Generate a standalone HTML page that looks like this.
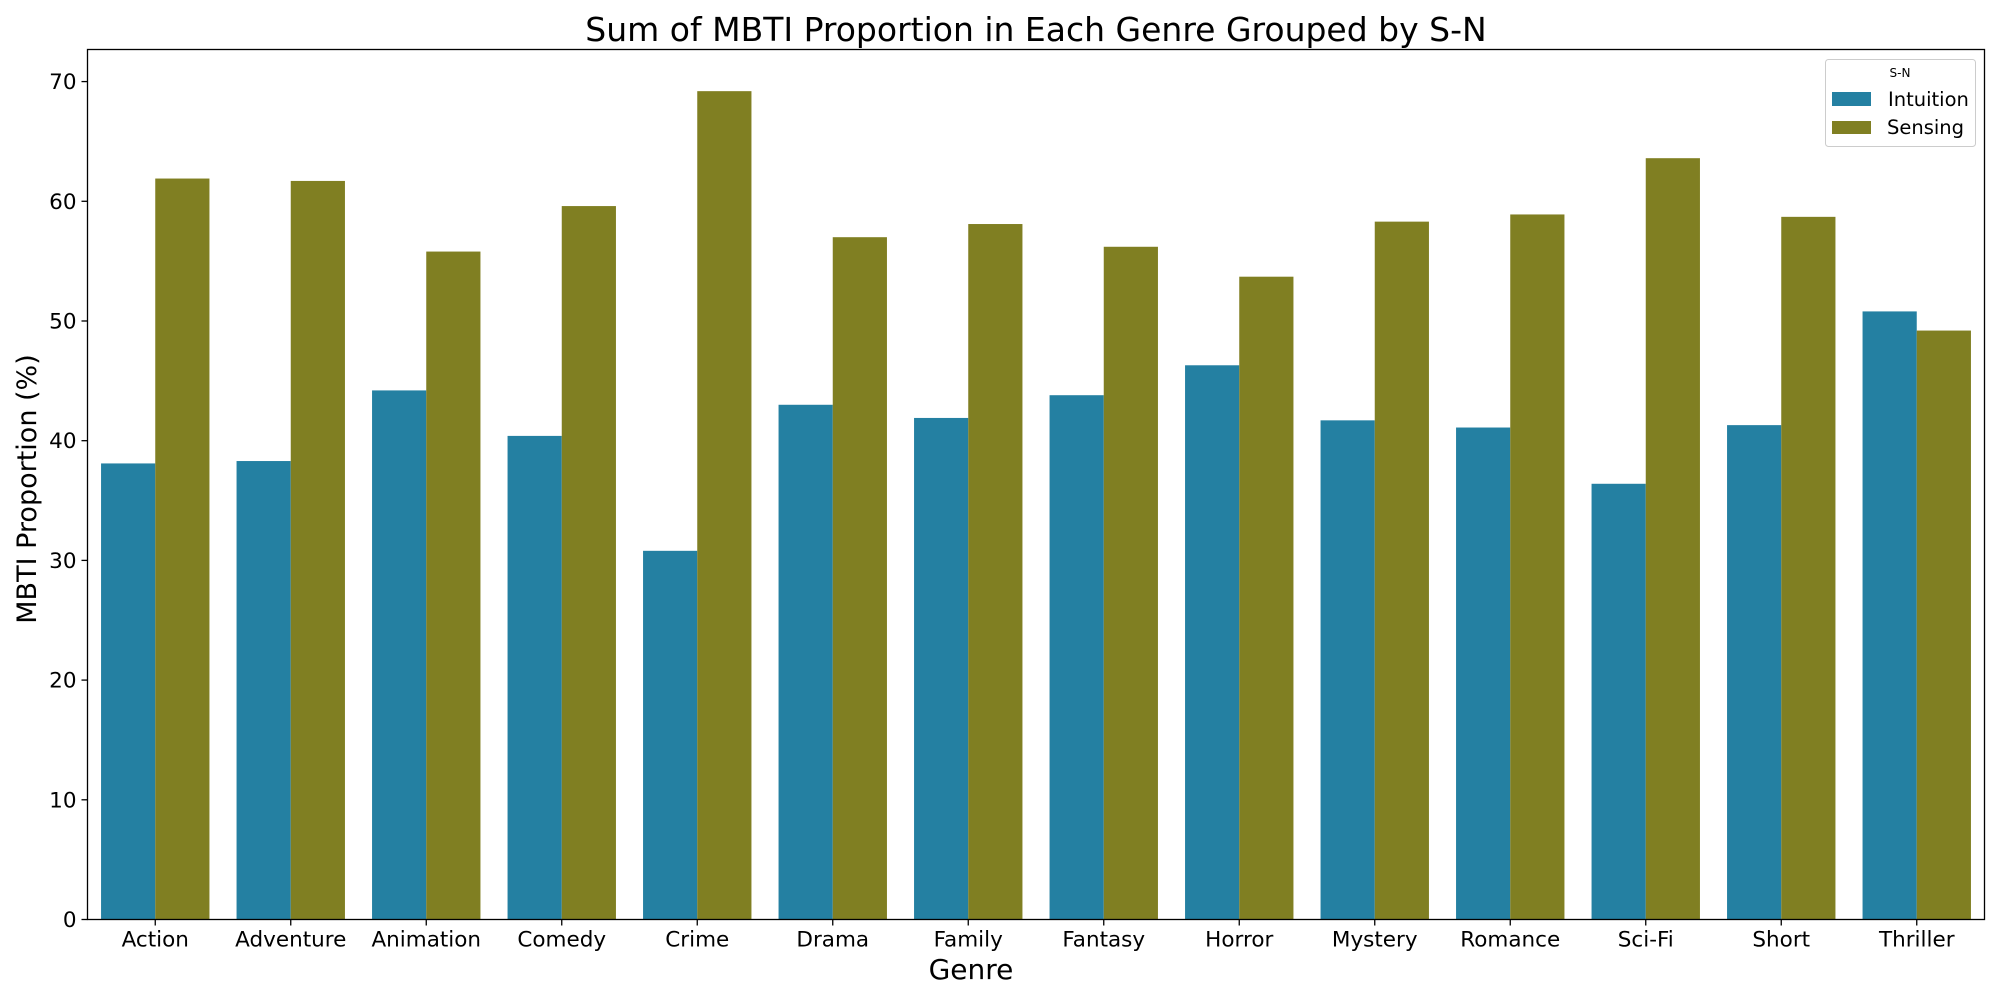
<!DOCTYPE html>
<html><head><meta charset="utf-8">
<style>
html,body{margin:0;padding:0;background:#fff;}
svg{display:block;font-family:"DejaVu Sans","Liberation Sans",sans-serif;}
</style></head>
<body>
<svg id="chart" width="2000" height="1000" viewBox="0 0 2000 1000">
<text x="1036" y="41" font-size="33" text-anchor="middle">Sum of MBTI Proportion in Each Genre Grouped by S-N</text>
<g id="bars"></g>
<g id="yaxis"></g>
<g id="xaxis"></g>
<rect x="87.5" y="49.5" width="1897" height="870" fill="none" stroke="#000" stroke-width="1.3"/>
<text x="971" y="979" font-size="28" text-anchor="middle">Genre</text>
<text transform="translate(36,489) rotate(-90)" font-size="27" text-anchor="middle">MBTI Proportion (%)</text>
<g>
<rect x="1825.5" y="59.5" width="150" height="87" rx="3" fill="#fff" stroke="#ccc" stroke-width="1"/>
<text x="1900" y="77" font-size="12" text-anchor="middle">S-N</text>
<rect x="1832" y="92" width="39" height="14" fill="#2480a2"/>
<text x="1888" y="106" font-size="19.5">Intuition</text>
<rect x="1832" y="121" width="39" height="13" fill="#807f22"/>
<text x="1887" y="134" font-size="19.5">Sensing</text>
</g>
</svg>
<script>
const categories=["Action","Adventure","Animation","Comedy","Crime","Drama","Family","Fantasy","Horror","Mystery","Romance","Sci-Fi","Short","Thriller"];
const intuition=[38.1,38.3,44.2,40.4,30.8,43.0,41.9,43.8,46.3,41.7,41.1,36.4,41.3,50.8];
const sensing=[61.9,61.7,55.8,59.6,69.2,57.0,58.1,56.2,53.7,58.3,58.9,63.6,58.7,49.2];
const yTicks=[0,10,20,30,40,50,60,70];

const NS="http://www.w3.org/2000/svg";
const L=87.5,R=1984.5,T=49.5,B=919.5,YMAX=72.68;
const bw=(R-L)/categories.length;
function xc(i){return L+bw*(i+0.5);}
function y(v){return B-(v/YMAX)*(B-T);}
function mk(tag,attrs,parent){const e=document.createElementNS(NS,tag);for(const k in attrs)e.setAttribute(k,attrs[k]);parent.appendChild(e);return e;}
const gb=document.getElementById('bars'),gy=document.getElementById('yaxis'),gx=document.getElementById('xaxis');
const half=bw*0.4;
categories.forEach((c,i)=>{
  const cx=xc(i);
  const r1=mk('rect',{x:cx-half,y:y(intuition[i]),width:half,height:B-y(intuition[i]),fill:'#2480a2'},gb);
  
  
  const r2=mk('rect',{x:cx,y:y(sensing[i]),width:half,height:B-y(sensing[i]),fill:'#807f22'},gb);
  
  
  const t=mk('line',{x1:cx,x2:cx,y1:B,y2:B+6,stroke:'#000','stroke-width':1.3},gx);
  
  
  const lb=mk('text',{x:cx,y:B+27,'font-size':21.5,'text-anchor':'middle'},gx);
  lb.textContent=c;
  
  
});
yTicks.forEach(v=>{
  const yy=y(v);
  const t=mk('line',{x1:L-6,x2:L,y1:yy,y2:yy,stroke:'#000','stroke-width':1.3},gy);
  
  
  const lb=mk('text',{x:L-11,y:yy+7.5,'font-size':21.5,'text-anchor':'end'},gy);
  lb.textContent=v;
  
  
});
</script>
</body></html>
